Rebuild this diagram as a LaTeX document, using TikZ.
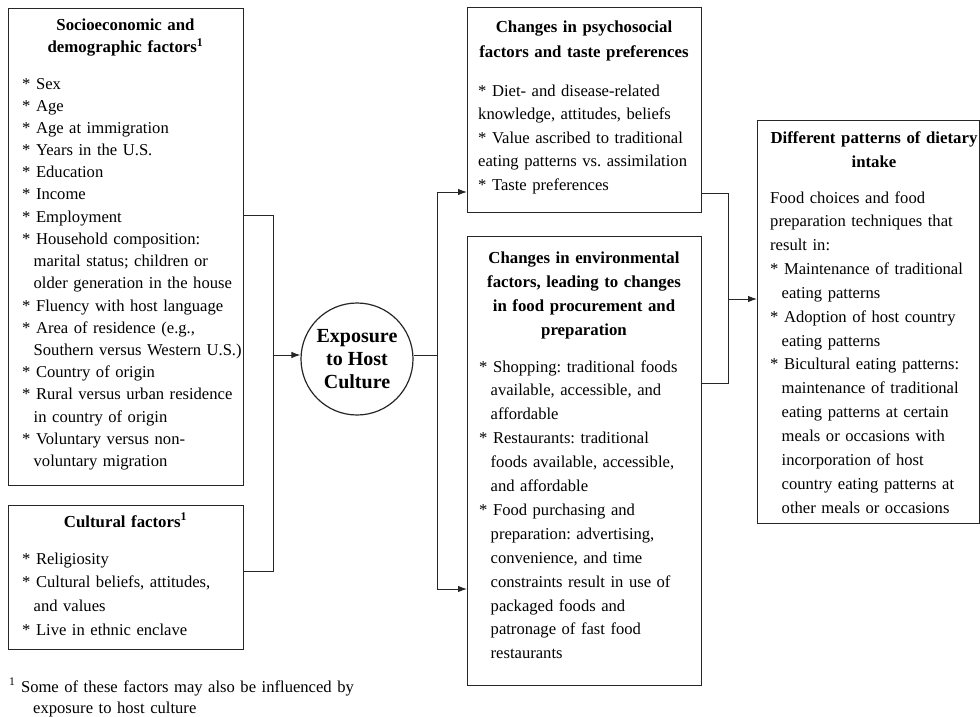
\documentclass[tikz,border=0pt]{standalone}
\usepackage{fontspec}
\setmainfont{Liberation Serif}
\usetikzlibrary{arrows.meta}
\newcommand{\myind}{\hspace*{11.5pt}}
\newcommand{\bul}{{*}\ }
\frenchspacing
\begin{document}
\begin{tikzpicture}[x=1pt,y=-1pt,
  box/.style={draw=black!85, line width=1.3pt, anchor=north west, inner sep=0pt},
  head/.style={anchor=base, inner sep=0pt, align=center, font=\fontsize{16.8}{24.5}\selectfont\bfseries},
  body/.style={anchor=base west, inner sep=0pt, align=left},
  conn/.style={line width=1pt, draw=black!85},
  arr/.style={conn, -{Latex[length=9pt,width=6.5pt]}}]
\useasboundingbox (0,0) rectangle (980,717);

% boxes
\node[box, minimum width=235pt, minimum height=477pt] (b1) at (8,8) {};
\node[box, minimum width=235pt, minimum height=144pt] (b2) at (8,505) {};
\node[box, minimum width=234pt, minimum height=205pt] (b3) at (467,7) {};
\node[box, minimum width=234pt, minimum height=449pt] (b4) at (467,236) {};
\node[box, minimum width=222pt, minimum height=403pt] (b5) at (757,120) {};
\node[draw=black!85, line width=1.2pt, circle, minimum size=112pt, inner sep=0pt,
  align=center, font=\fontsize{20}{23}\selectfont\bfseries] (circ) at (357,359)
  {Exposure\\to Host\\Culture};

% box 1
\node[head, text width=230pt, font=\fontsize{16.8}{22}\selectfont\bfseries] (h1) at (125.5,31)
  {Socioeconomic and\\demographic factors\textsuperscript{1}};
\node[body, text width=225pt, font=\fontsize{16.6}{22.2}\selectfont] (t1) at (22,89)
  {\bul Sex\\
   \bul Age\\
   \bul Age at immigration\\
   \bul Years in the U.S.\\
   \bul Education\\
   \bul Income\\
   \bul Employment\\
   \bul Household composition:\\
   \myind marital status; children or\\
   \myind older generation in the house\\
   \bul Fluency with host language\\
   \bul Area of residence (e.g.,\\
   \myind Southern versus Western U.S.)\\
   \bul Country of origin\\
   \bul Rural versus urban residence\\
   \myind in country of origin\\
   \bul Voluntary versus non-\\
   \myind voluntary migration};

% box 2
\node[head, text width=230pt] (h2) at (125.5,527) {Cultural factors\textsuperscript{1}};
\node[body, text width=225pt, font=\fontsize{16.6}{23.7}\selectfont] (t2) at (22,564)
  {\bul Religiosity\\
   \bul Cultural beliefs, attitudes,\\
   \myind and values\\
   \bul Live in ethnic enclave};

% box 3
\node[head, text width=230pt, font=\fontsize{16.8}{25}\selectfont\bfseries] (h3) at (584,33)
  {Changes in psychosocial\\factors and taste preferences};
\node[body, text width=225pt, font=\fontsize{16.6}{23.5}\selectfont] (t3) at (478,96)
  {\bul Diet- and disease-related\\
   knowledge, attitudes, beliefs\\
   \bul Value ascribed to traditional\\
   eating patterns vs. assimilation\\
   \bul Taste preferences};

% box 4
\node[head, text width=230pt, font=\fontsize{16.8}{24.2}\selectfont\bfseries] (h4) at (584,263)
  {Changes in environmental\\factors, leading to changes\\in food procurement and\\preparation};
\node[body, text width=215pt, font=\fontsize{16.6}{23.9}\selectfont] (t4) at (479,372)
  {\bul Shopping: traditional foods\\
   \myind available, accessible, and\\
   \myind affordable\\
   \bul Restaurants: traditional\\
   \myind foods available, accessible,\\
   \myind and affordable\\
   \bul Food purchasing and\\
   \myind preparation: advertising,\\
   \myind convenience, and time\\
   \myind constraints result in use of\\
   \myind packaged foods and\\
   \myind patronage of fast food\\
   \myind restaurants};

% box 5
\node[head, text width=222pt, font=\fontsize{16.8}{24}\selectfont\bfseries] (h5) at (874,143)
  {Different patterns of dietary\\intake};
\node[body, text width=205pt, font=\fontsize{16.6}{23.85}\selectfont] (t5) at (770,203)
  {Food choices and food\\
   preparation techniques that\\
   result in:\\
   \bul Maintenance of traditional\\
   \myind eating patterns\\
   \bul Adoption of host country\\
   \myind eating patterns\\
   \bul Bicultural eating patterns:\\
   \myind maintenance of traditional\\
   \myind eating patterns at certain\\
   \myind meals or occasions with\\
   \myind incorporation of host\\
   \myind country eating patterns at\\
   \myind other meals or occasions};

% footnote
\node[body, text width=360pt, font=\fontsize{16.6}{21}\selectfont] (fn) at (9,692)
  {\textsuperscript{1} Some of these factors may also be influenced by\\
   \hspace*{24pt}exposure to host culture};

% connectors
\coordinate (j1) at (273,215);
\coordinate (j2) at (273,571);
\coordinate (jL) at (273,355);
\draw[conn] (j1 -| b1.east) -- (j1) -- (j2) -- (j2 -| b2.east);
\draw[arr] (jL) -- (jL -| circ.west);

\coordinate (r0) at (437,355);
\coordinate (r1) at (437,192);
\coordinate (r2) at (437,589);
\draw[conn] (r0 -| circ.east) -- (r0);
\draw[conn] (r1) -- (r2);
\draw[arr] (r1) -- (r1 -| b3.west);
\draw[arr] (r2) -- (r2 -| b4.west);

\coordinate (k1) at (728,193);
\coordinate (k2) at (728,383);
\coordinate (k3) at (728,299);
\draw[conn] (k1 -| b3.east) -- (k1) -- (k2) -- (k2 -| b4.east);
\draw[arr] (k3) -- (k3 -| b5.west);
\end{tikzpicture}
\end{document}
